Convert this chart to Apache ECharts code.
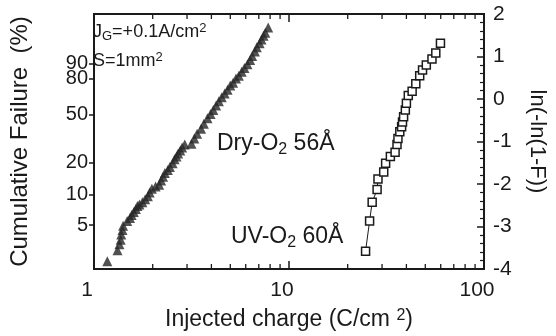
<!DOCTYPE html>
<html>
<head>
<meta charset="utf-8">
<script src="https://cdn.jsdelivr.net/npm/echarts@6/dist/echarts.min.js"></script>
<style>
html, body { margin: 0; padding: 0; background: #fff; }
#chart { width: 556px; height: 336px; }
</style>
</head>
<body>
<div id="chart"></div>
<script>
// Dry-O2 56A: injected charge (C/cm2) and ln(-ln(1-F))
var dryCharge = [1.17, 1.32, 1.35, 1.37, 1.38, 1.40, 1.41, 1.48, 1.53, 1.56, 1.60, 1.64, 1.67, 1.71, 1.77, 1.83,
    1.89, 1.93, 1.98, 2.07, 2.16, 2.21, 2.26, 2.31, 2.39, 2.45, 2.53, 2.59, 2.65, 2.70, 2.77, 2.83, 2.92,
    3.16, 3.27, 3.38, 3.54, 3.66, 3.82, 3.96, 4.09, 4.23, 4.37, 4.52, 4.68, 4.84, 5.00, 5.17, 5.35, 5.53,
    5.72, 5.91, 6.12, 6.32, 6.47, 6.69, 6.84, 7.07, 7.23, 7.40, 7.56, 7.82];
var dryWeibull = [-3.82, -3.56, -3.42, -3.31, -3.19, -3.08, -2.98, -2.87, -2.80, -2.73, -2.66, -2.59, -2.52, -2.48, -2.43, -2.36,
    -2.29, -2.20, -2.11, -2.06, -2.02, -1.92, -1.83, -1.74, -1.67, -1.60, -1.51, -1.42, -1.35, -1.28, -1.21, -1.14, -1.07,
    -1.05, -0.93, -0.82, -0.70, -0.58, -0.45, -0.35, -0.26, -0.15, -0.05, 0.04, 0.13, 0.22, 0.32, 0.38, 0.48, 0.55,
    0.64, 0.73, 0.82, 0.92, 1.01, 1.12, 1.22, 1.31, 1.40, 1.49, 1.56, 1.68];

// UV-O2 60A
var uvCharge = [24.7, 25.9, 26.7, 28.3, 28.6, 30.6, 31.3, 33.1, 35.0, 35.8, 36.2, 37.0, 37.8, 38.2, 38.7, 39.5,
    40.0, 40.9, 42.8, 44.7, 46.8, 48.4, 50.6, 54.1, 56.6, 59.8];
var uvWeibull = [-3.58, -2.87, -2.43, -2.13, -1.88, -1.72, -1.51, -1.35, -1.25, -1.07, -0.93, -0.77, -0.65, -0.54, -0.42, -0.26,
    -0.10, 0.08, 0.18, 0.36, 0.55, 0.68, 0.80, 0.94, 1.08, 1.31];

// axis ticks
var failurePercent = [5, 10, 20, 50, 80, 90];
var chargeMinorTicks = [2, 3, 4, 5, 6, 7, 8, 9, 20, 30, 40, 50, 60, 70, 80, 90];

var font = 'Liberation Sans';
var ink = '#1a1a1a';

var failureTicks = failurePercent.map(function (p) {
    return Math.log(-Math.log(1 - p / 100));
});
// 80 and 90 sit too close for one axis, so 90 gets its own label axis
var lowerTicks = failureTicks.slice(0, -1);
var upperTicks = failureTicks.slice(-1);

function percentLabel(v) {
    var best = 0;
    for (var i = 1; i < failureTicks.length; i++) {
        if (Math.abs(failureTicks[i] - v) < Math.abs(failureTicks[best] - v)) {
            best = i;
        }
    }
    return String(failurePercent[best]);
}

function pairs(xs, ys) {
    return xs.map(function (x, i) { return [x, ys[i]]; });
}

var leftLabel = {
    hideOverlap: false,
    showMinLabel: true,
    showMaxLabel: true,
    fontFamily: font,
    fontSize: 20,
    color: ink,
    margin: 6,
    formatter: percentLabel
};

var chart = echarts.init(document.getElementById('chart'));

var option = {
    animation: false,
    grid: {
        left: 83,
        right: 61,
        top: 14,
        bottom: 61,
        show: true,
        borderColor: ink,
        borderWidth: 2
    },
    xAxis: [
        {
            type: 'log',
            logBase: 10,
            min: 1,
            max: 100,
            position: 'bottom',
            name: 'Injected charge (C/cm {sup|2})',
            nameLocation: 'middle',
            nameGap: 39,
            nameTextStyle: {
                fontFamily: font,
                fontSize: 23,
                color: ink,
                rich: {
                    sup: { fontFamily: font, fontSize: 16, color: ink, verticalAlign: 'top', lineHeight: 14 }
                }
            },
            axisLine: { onZero: false, lineStyle: { color: ink, width: 2 } },
            axisTick: { inside: true, length: 8, lineStyle: { color: ink, width: 1.5 } },
            axisLabel: {
                fontFamily: font,
                fontSize: 21,
                color: ink,
                margin: 11,
                alignMinLabel: 'center',
                alignMaxLabel: 'center',
                padding: [0, 14, 0, 0]
            },
            splitLine: { show: false }
        },
        {
            type: 'log',
            logBase: 10,
            min: 1,
            max: 100,
            position: 'top',
            axisLine: { onZero: false, lineStyle: { color: ink, width: 2 } },
            axisTick: { inside: true, length: 8, lineStyle: { color: ink, width: 1.5 } },
            axisLabel: { show: false },
            splitLine: { show: false }
        }
    ],
    yAxis: [
        {
            type: 'value',
            min: -4,
            max: 2,
            position: 'left',
            name: 'Cumulative Failure  (%)',
            nameLocation: 'middle',
            nameGap: 62,
            nameTextStyle: { fontFamily: font, fontSize: 24, color: ink },
            axisLine: { onZero: false, lineStyle: { color: ink, width: 2 } },
            axisTick: {
                customValues: failureTicks,
                length: 5,
                lineStyle: { color: ink, width: 1.5 }
            },
            axisLabel: Object.assign({ customValues: lowerTicks }, leftLabel),
            splitLine: { show: false }
        },
        {
            type: 'value',
            min: -4,
            max: 2,
            interval: 1,
            position: 'right',
            name: 'ln(-ln(1-F))',
            nameLocation: 'middle',
            nameRotate: -90,
            nameGap: 42,
            nameTextStyle: { fontFamily: font, fontSize: 22, color: ink },
            axisLine: { onZero: false, lineStyle: { color: ink, width: 2 } },
            axisTick: { inside: true, length: 7, lineStyle: { color: ink, width: 1.5 } },
            minorTick: { show: true, splitNumber: 5, length: 4, lineStyle: { color: ink, width: 1.2 } },
            axisLabel: { fontFamily: font, fontSize: 21, color: ink, margin: 9, padding: [8, 0, 0, 0] },
            splitLine: { show: false }
        },
        {
            type: 'value',
            min: -4,
            max: 2,
            position: 'left',
            axisLine: { show: false },
            axisTick: { show: false },
            axisLabel: Object.assign({ customValues: upperTicks }, leftLabel),
            splitLine: { show: false }
        }
    ],
    series: [
        {
            // minor log ticks on bottom and top frame
            type: 'custom',
            xAxisIndex: 0,
            yAxisIndex: 1,
            silent: true,
            clip: false,
            data: chargeMinorTicks.map(function (v) { return [v]; }),
            renderItem: function (params, api) {
                var v = api.value(0);
                var b = api.coord([v, -4]);
                var t = api.coord([v, 2]);
                var style = { stroke: ink, lineWidth: 1.3 };
                return {
                    type: 'group',
                    children: [
                        { type: 'line', shape: { x1: b[0], y1: b[1], x2: b[0], y2: b[1] - 5 }, style: style },
                        { type: 'line', shape: { x1: t[0], y1: t[1], x2: t[0], y2: t[1] + 5 }, style: style }
                    ]
                };
            }
        },
        {
            name: 'Dry-O2 56A',
            type: 'scatter',
            xAxisIndex: 0,
            yAxisIndex: 1,
            symbol: 'triangle',
            symbolSize: 10,
            itemStyle: { color: '#262626' },
            data: pairs(dryCharge, dryWeibull)
        },
        {
            name: 'UV-O2 60A',
            type: 'line',
            xAxisIndex: 0,
            yAxisIndex: 1,
            symbol: 'rect',
            symbolSize: 8,
            showAllSymbol: true,
            lineStyle: { color: ink, width: 1 },
            itemStyle: { color: '#fff', borderColor: ink, borderWidth: 1.5 },
            data: pairs(uvCharge, uvWeibull)
        }
    ],
    graphic: [
        {
            type: 'text',
            left: 93,
            top: 22,
            style: {
                text: '{a|J}{b|G}{a|=+0.1A/cm}{c|2}',
                rich: {
                    a: { fontFamily: font, fontSize: 18, fill: ink, lineHeight: 21 },
                    b: { fontFamily: font, fontSize: 13, fill: ink, lineHeight: 12, verticalAlign: 'bottom' },
                    c: { fontFamily: font, fontSize: 13, fill: ink, lineHeight: 12, verticalAlign: 'top' }
                }
            }
        },
        {
            type: 'text',
            left: 93,
            top: 51,
            style: {
                text: '{a|S=1mm}{c|2}',
                rich: {
                    a: { fontFamily: font, fontSize: 18, fill: ink, lineHeight: 21 },
                    c: { fontFamily: font, fontSize: 13, fill: ink, lineHeight: 12, verticalAlign: 'top' }
                }
            }
        },
        {
            type: 'text',
            left: 217,
            top: 132,
            style: {
                text: '{a|Dry-O}{b|2}{a| 56Å}',
                rich: {
                    a: { fontFamily: font, fontSize: 23, fill: ink, lineHeight: 28 },
                    b: { fontFamily: font, fontSize: 16, fill: ink, lineHeight: 15, verticalAlign: 'bottom' }
                }
            }
        },
        {
            type: 'text',
            left: 231,
            top: 225,
            style: {
                text: '{a|UV-O}{b|2}{a| 60Å}',
                rich: {
                    a: { fontFamily: font, fontSize: 23, fill: ink, lineHeight: 28 },
                    b: { fontFamily: font, fontSize: 16, fill: ink, lineHeight: 15, verticalAlign: 'bottom' }
                }
            }
        }
    ]
};

chart.setOption(option);
</script>
</body>
</html>
